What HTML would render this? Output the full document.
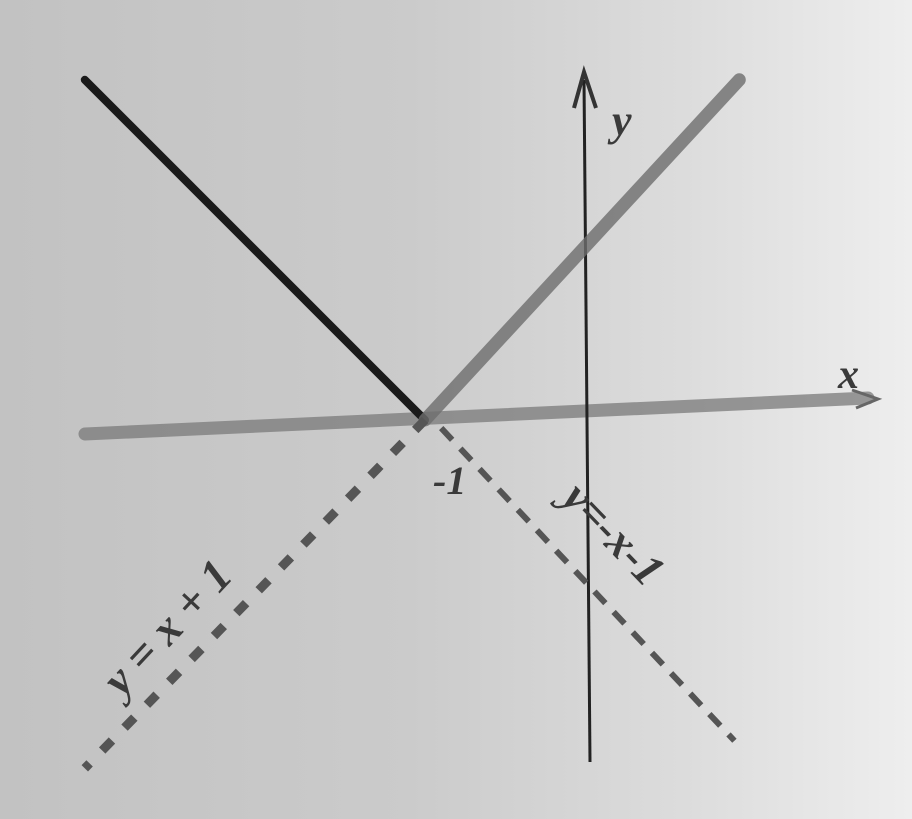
<!DOCTYPE html>
<html><head><meta charset="utf-8"><style>
html,body{margin:0;padding:0;width:912px;height:819px;overflow:hidden}
body{background:linear-gradient(90deg,#c2c2c2 0%,#cbcbcb 45%,#dcdcdc 75%,#eeeeee 100%)}
svg{position:absolute;left:0;top:0}
text{font-family:"Liberation Serif",serif;font-style:italic;fill:#3a3a3a}
</style></head><body>
<svg id="chart" width="912" height="819" viewBox="0 0 912 819">
<g id="g"></g>
</svg>
<script>
const solidLeft = [[-3.1, 2.1], [-1, 0]];
const solidRight = [[-1, 0], [0.94, 2.1]];
const dashLeft = [[-1, 0], [-3.1, -2.15]];
const dashRight = [[-0.9, -0.05], [0.91, -1.98]];
const xTickLabels = ["-1"];
const xTickValues = [-1];
const sx = v => 587 + 162 * v;
const sy = v => 420 - 162 * v;
const g = document.getElementById('g');
const NS = 'http://www.w3.org/2000/svg';
function mk(tag, attrs){const e=document.createElementNS(NS,tag);for(const k in attrs)e.setAttribute(k,attrs[k]);g.appendChild(e);return e;}
let e = mk('line',{x1:85,y1:434,x2:868,y2:398,stroke:'#7a7a7a','stroke-width':13,'stroke-linecap':'round',opacity:0.75});


e = mk('path',{d:'M852 390 L878 399 L856 408',fill:'none',stroke:'#666','stroke-width':3});


e = mk('line',{x1:590,y1:762,x2:584,y2:80,stroke:'#222','stroke-width':3});


e = mk('path',{d:'M574 108 L584 72 L596 108',fill:'none',stroke:'#333','stroke-width':4});


function seg(pts, name, style){
  const el = mk('line',Object.assign({x1:sx(pts[0][0]),y1:sy(pts[0][1]),x2:sx(pts[1][0]),y2:sy(pts[1][1]),'stroke-linecap':'round'},style));
  
  
}
seg(solidLeft,'abs-left-arm',{stroke:'#1a1a1a','stroke-width':8});
seg(solidRight,'abs-right-arm',{stroke:'#6e6e6e','stroke-width':13,opacity:0.8});
seg(dashLeft,'dashed-line-left',{stroke:'#555','stroke-width':9,'stroke-dasharray':'14 18','stroke-linecap':'butt'});
seg(dashRight,'dashed-line-right',{stroke:'#555','stroke-width':6,'stroke-dasharray':'16 12','stroke-linecap':'butt'});
xTickValues.forEach((v,i)=>{
  const t = mk('text',{x:sx(v)+8,y:494,'font-size':40,'font-weight':'bold'});
  t.textContent = xTickLabels[i];
  
  
});
e = mk('text',{x:612,y:135,'font-size':44,'font-weight':'bold'}); e.textContent='y';


e = mk('text',{x:838,y:388,'font-size':42,'font-weight':'bold'}); e.textContent='x';


e = mk('text',{x:0,y:0,'font-size':46,'font-weight':'bold',transform:'translate(122,698) rotate(-47)'}); e.textContent='y = x + 1';


e = mk('text',{x:0,y:0,'font-size':46,'font-weight':'bold',transform:'translate(560,500) rotate(46)'}); e.textContent='y=-x-1';


</script>
</body></html>
